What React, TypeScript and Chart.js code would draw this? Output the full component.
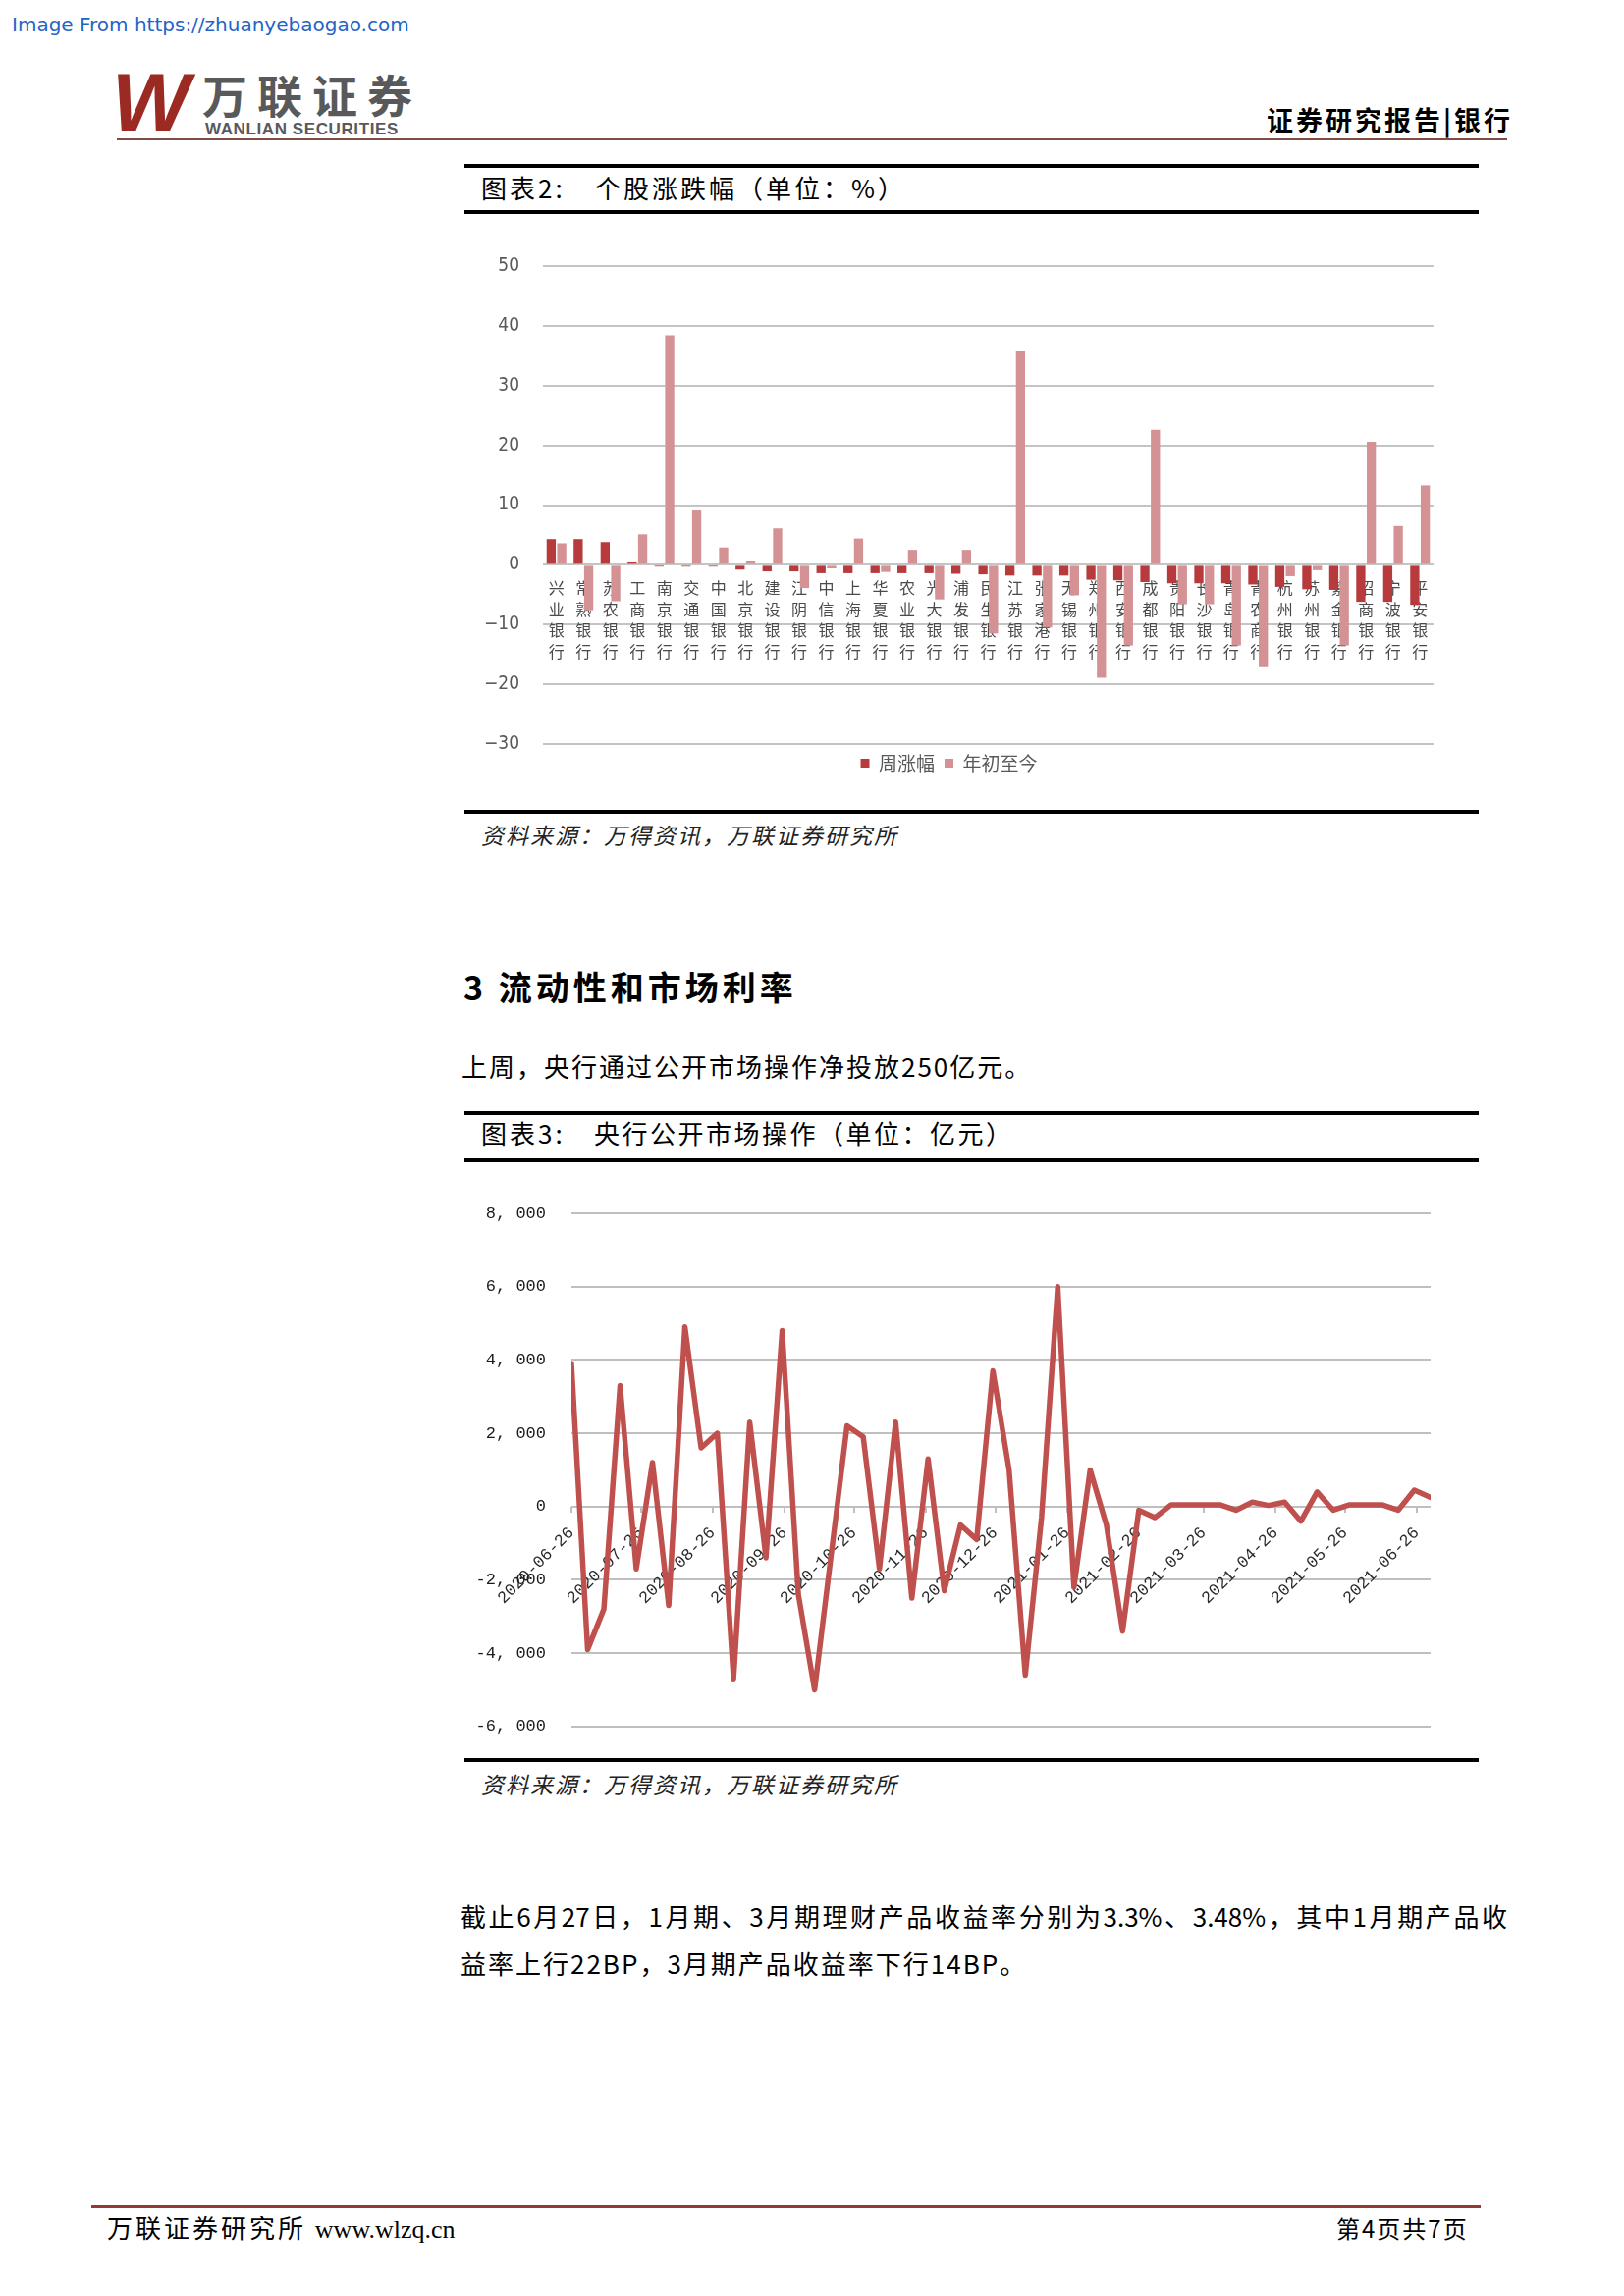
import React, { useEffect, useRef } from 'react';
import { Chart, registerables } from 'chart.js';

Chart.register(...registerables);

// ---------- Chart 2 (图表2) data: 个股涨跌幅 ----------
const bankNames = [
  '兴业银行', '常熟银行', '苏农银行', '工商银行', '南京银行', '交通银行', '中国银行', '北京银行',
  '建设银行', '江阴银行', '中信银行', '上海银行', '华夏银行', '农业银行', '光大银行', '浦发银行',
  '民生银行', '江苏银行', '张家港行', '无锡银行', '郑州银行', '西安银行', '成都银行', '贵阳银行',
  '长沙银行', '青岛银行', '青农商行', '杭州银行', '苏州银行', '紫金银行', '招商银行', '宁波银行',
  '平安银行',
];
const weeklyChange = [
  4.3, 4.3, 3.8, 0.4, -0.3, -0.3, -0.3, -0.8, -1.1, -1.1, -1.4, -1.4, -1.4, -1.4, -1.4, -1.5,
  -1.6, -1.8, -1.8, -1.8, -2.5, -2.6, -2.9, -3.1, -3.1, -3.1, -3.3, -3.7, -4.1, -4.2, -6.2, -6.2,
  -6.7,
];
const ytdChange = [
  3.6, -7.6, -6.1, 5.1, 38.4, 9.1, 2.9, 0.6, 6.1, -3.9, -0.6, 4.4, -1.2, 2.5, -5.8, 2.5,
  -11.5, 35.7, -10.5, -5.1, -18.9, -13.5, 22.6, -6.6, -6.6, -13.5, -17.0, -1.9, -0.9, -13.5, 20.6, 6.5,
  13.3,
];
const seriesNames = ['周涨幅', '年初至今'];

// ---------- Chart 3 (图表3) data: 央行公开市场操作 ----------
const weekDates = [
  '2020-06-26', '2020-07-03', '2020-07-10', '2020-07-17', '2020-07-24', '2020-07-31',
  '2020-08-07', '2020-08-14', '2020-08-21', '2020-08-28', '2020-09-04', '2020-09-11',
  '2020-09-18', '2020-09-25', '2020-10-02', '2020-10-09', '2020-10-16', '2020-10-23',
  '2020-10-30', '2020-11-06', '2020-11-13', '2020-11-20', '2020-11-27', '2020-12-04',
  '2020-12-11', '2020-12-18', '2020-12-25', '2021-01-01', '2021-01-08', '2021-01-15',
  '2021-01-22', '2021-01-29', '2021-02-05', '2021-02-12', '2021-02-19', '2021-02-26',
  '2021-03-05', '2021-03-12', '2021-03-19', '2021-03-26', '2021-04-02', '2021-04-09',
  '2021-04-16', '2021-04-23', '2021-04-30', '2021-05-07', '2021-05-14', '2021-05-21',
  '2021-05-28', '2021-06-04', '2021-06-11', '2021-06-18', '2021-06-25', '2021-07-02',
];
const netInjection = [
  3900, -3900, -2800, 3300, -1700, 1200, -2700, 4900, 1600, 2000, -4700, 2300,
  -1400, 4800, -2400, -5000, -1400, 2200, 1900, -1700, 2300, -2500, 1300, -2300,
  -500, -900, 3700, 1000, -4600, -300, 6000, -2200, 1000, -500, -3400, -100,
  -300, 50, 50, 50, 50, -100, 120, 30, 120, -400, 400, -100,
  50, 50, 50, -100, 450, 250,
];
const monthTickLabels = [
  '2020-06-26', '2020-07-26', '2020-08-26', '2020-09-26', '2020-10-26', '2020-11-26',
  '2020-12-26', '2021-01-26', '2021-02-26', '2021-03-26', '2021-04-26', '2021-05-26',
  '2021-06-26',
];

const dayOffset = (d: string) => Math.round((Date.parse(d) - Date.parse(weekDates[0])) / 86400000);

const CJK = "'Noto Sans CJK SC', 'Noto Sans', sans-serif";
const NARROW = "'Liberation Sans Narrow', 'DejaVu Sans Condensed', 'Liberation Sans', sans-serif";
const MONO = "'Liberation Mono', 'DejaVu Sans Mono', monospace";

function StockChart() {
  const ref = useRef<HTMLCanvasElement>(null);
  useEffect(() => {
    const chart = new Chart(ref.current as HTMLCanvasElement, {
      type: 'bar',
      data: {
        labels: bankNames.map((n) => n.split('')),
        datasets: [
          {
            label: seriesNames[0],
            data: weeklyChange,
            backgroundColor: '#b73b3d',
            borderWidth: 0,
            categoryPercentage: 0.78,
            barPercentage: 0.87,
          },
          {
            label: seriesNames[1],
            data: ytdChange,
            backgroundColor: '#d59294',
            borderWidth: 0,
            categoryPercentage: 0.78,
            barPercentage: 0.87,
          },
        ],
      },
      options: {
        responsive: false,
        animation: false,
        devicePixelRatio: 1,
        layout: { padding: { left: 0, right: 46, top: 46, bottom: 28 } },
        plugins: {
          legend: {
            position: 'bottom',
            labels: {
              boxWidth: 9,
              boxHeight: 9,
              padding: 10,
              color: '#595959',
              font: { family: CJK, size: 19 },
            },
          },
          tooltip: { enabled: false },
        },
        scales: {
          x: {
            position: { y: 0 } as any,
            grid: { display: false, drawTicks: false },
            border: { display: false },
            ticks: {
              autoSkip: false,
              minRotation: 0,
              maxRotation: 0,
              padding: 13,
              color: '#4a4a4a',
              font: { family: CJK, size: 16, lineHeight: 1.35 },
            },
          },
          y: {
            min: -30,
            max: 50,
            ticks: {
              stepSize: 10,
              padding: 24,
              color: '#595959',
              font: { family: NARROW, size: 19 },
              callback: (v: any) => (Number(v) < 0 ? '−' + Math.abs(Number(v)) : String(v)),
            },
            grid: { color: '#c4c4c4', lineWidth: 2, drawTicks: false },
            border: { display: false },
            afterFit: (s: any) => {
              s.width = 80;
            },
          },
        },
      },
    } as any);
    return () => chart.destroy();
  }, []);
  return (
    <canvas
      ref={ref}
      width={1033}
      height={600}
      style={{ position: 'absolute', left: 473, top: 225, width: 1033, height: 600 }}
    />
  );
}

function OmoChart() {
  const ref = useRef<HTMLCanvasElement>(null);
  useEffect(() => {
    const tickDays = monthTickLabels.map(dayOffset);
    const points = weekDates.map((d, i) => ({ x: dayOffset(d), y: netInjection[i] }));
    const fmt = (v: number) => {
      const a = Math.abs(v);
      const s = a >= 1000 ? Math.floor(a / 1000) + ', ' + String(a % 1000).padStart(3, '0') : String(a);
      return (v < 0 ? '-' : '') + s;
    };
    const chart = new Chart(ref.current as HTMLCanvasElement, {
      type: 'line',
      data: {
        datasets: [
          {
            label: '央行公开市场操作',
            data: points,
            borderColor: '#c0504d',
            borderWidth: 5.5,
            pointRadius: 0,
            tension: 0,
            fill: false,
            borderJoinStyle: 'round',
            borderCapStyle: 'round',
          },
        ],
      },
      options: {
        responsive: false,
        animation: false,
        devicePixelRatio: 1,
        layout: { padding: { left: 0, right: 49, top: 46, bottom: 9 } },
        plugins: { legend: { display: false }, tooltip: { enabled: false } },
        scales: {
          x: {
            type: 'linear',
            position: { y: 0 } as any,
            min: 0,
            max: dayOffset(weekDates[weekDates.length - 1]),
            afterBuildTicks: (a: any) => {
              a.ticks = tickDays.map((v) => ({ value: v }));
            },
            grid: {
              display: true,
              drawOnChartArea: false,
              drawTicks: true,
              tickLength: 6,
              color: '#bfbfbf',
              lineWidth: 2,
            },
            border: { display: false },
            ticks: {
              autoSkip: false,
              minRotation: 45,
              maxRotation: 45,
              padding: 11,
              color: '#2a2a2a',
              font: { family: MONO, size: 17 },
              callback: (_v: any, i: number) => monthTickLabels[i],
            },
          },
          y: {
            min: -6000,
            max: 8000,
            ticks: {
              stepSize: 2000,
              padding: 26,
              color: '#1a1a1a',
              font: { family: MONO, size: 17 },
              callback: (v: any) => fmt(Number(v)),
            },
            grid: { color: '#bfbfbf', lineWidth: 2, drawTicks: false },
            border: { display: false },
            afterFit: (s: any) => {
              s.width = 109;
            },
          },
        },
      },
    } as any);
    return () => chart.destroy();
  }, []);
  return (
    <canvas
      ref={ref}
      width={1033}
      height={605}
      style={{ position: 'absolute', left: 473, top: 1190, width: 1033, height: 605 }}
    />
  );
}

const abs = (o: React.CSSProperties): React.CSSProperties => ({
  position: 'absolute',
  whiteSpace: 'nowrap',
  lineHeight: 1,
  ...o,
});

function Rule({ top, h = 4 }: { top: number; h?: number }) {
  return <div style={abs({ left: 473, top, width: 1033, height: h, background: '#000' })} />;
}

export default function App() {
  return (
    <div
      style={{
        position: 'absolute',
        left: 0,
        top: 0,
        width: 1654,
        height: 2339,
        background: '#fff',
        overflow: 'hidden',
        fontFamily: CJK,
        color: '#000',
      }}
    >
      {/* watermark */}
      <div style={abs({ left: 12, top: 15, fontFamily: "'DejaVu Sans', sans-serif", fontSize: 20, color: '#1f64c8' })}>
        Image From https://zhuanyebaogao.com
      </div>

      {/* header logo */}
      <div
        style={abs({
          left: 114,
          top: 62,
          fontFamily: "'Liberation Sans', sans-serif",
          fontWeight: 700,
          fontStyle: 'italic',
          fontSize: 84,
          color: '#9b2a23',
          letterSpacing: -2,
        })}
      >
        W
      </div>
      <div style={abs({ left: 206, top: 72, fontSize: 46, fontWeight: 700, color: '#58595b', letterSpacing: 10 })}>
        万联证券
      </div>
      <div
        style={abs({
          left: 209,
          top: 123,
          fontFamily: "'Liberation Sans', sans-serif",
          fontWeight: 700,
          fontSize: 17,
          color: '#58595b',
          letterSpacing: 0.6,
        })}
      >
        WANLIAN SECURITIES
      </div>
      <div style={abs({ left: 1290, top: 108, fontSize: 27, fontWeight: 700, letterSpacing: 3 })}>
        证券研究报告|银行
      </div>
      <div style={abs({ left: 119, top: 141, width: 1416, height: 2, background: '#7f4c44' })} />

      {/* figure 2 */}
      <Rule top={167} />
      <div style={abs({ left: 490, top: 178, fontSize: 26, letterSpacing: 3 })}>图表2:</div>
      <div style={abs({ left: 606, top: 178, fontSize: 26, letterSpacing: 3 })}>个股涨跌幅（单位：%）</div>
      <Rule top={214} />
      <StockChart />
      <Rule top={825} />
      <div style={abs({ left: 490, top: 839, fontSize: 23, fontStyle: 'italic', letterSpacing: 2, color: '#222' })}>
        资料来源：万得资讯，万联证券研究所
      </div>

      {/* section heading */}
      <div style={abs({ left: 472, top: 988, fontSize: 34, fontWeight: 700, letterSpacing: 4 })}>3 流动性和市场利率</div>
      <div style={abs({ left: 470, top: 1073, fontSize: 26, letterSpacing: 2 })}>
        上周，央行通过公开市场操作净投放250亿元。
      </div>

      {/* figure 3 */}
      <Rule top={1132} />
      <div style={abs({ left: 490, top: 1141, fontSize: 26, letterSpacing: 3 })}>图表3:</div>
      <div style={abs({ left: 605, top: 1141, fontSize: 26, letterSpacing: 2.5 })}>央行公开市场操作（单位：亿元）</div>
      <Rule top={1180} />
      <OmoChart />
      <Rule top={1791} />
      <div style={abs({ left: 490, top: 1806, fontSize: 23, fontStyle: 'italic', letterSpacing: 2, color: '#222' })}>
        资料来源：万得资讯，万联证券研究所
      </div>

      {/* paragraph */}
      <div
        style={{
          position: 'absolute',
          left: 469,
          top: 1939,
          width: 1066,
          fontSize: 26,
          lineHeight: 1,
          textAlign: 'justify',
          textAlignLast: 'justify',
          whiteSpace: 'nowrap',
        }}
      >
        截止6月27日，1月期、3月期理财产品收益率分别为3.3%、3.48%，其中1月期产品收
      </div>
      <div style={abs({ left: 469, top: 1987, fontSize: 26, letterSpacing: 2 })}>
        益率上行22BP，3月期产品收益率下行14BP。
      </div>

      {/* footer */}
      <div style={abs({ left: 93, top: 2246, width: 1415, height: 3, background: '#953735' })} />
      <div style={abs({ left: 109, top: 2256, fontSize: 26, letterSpacing: 3 })}>
        万联证券研究所{' '}
        <span style={{ fontFamily: "'Liberation Serif', serif", letterSpacing: 0 }}>www.wlzq.cn</span>
      </div>
      <div style={abs({ left: 1361, top: 2258, fontSize: 24, letterSpacing: 2 })}>第4页共7页</div>
    </div>
  );
}
